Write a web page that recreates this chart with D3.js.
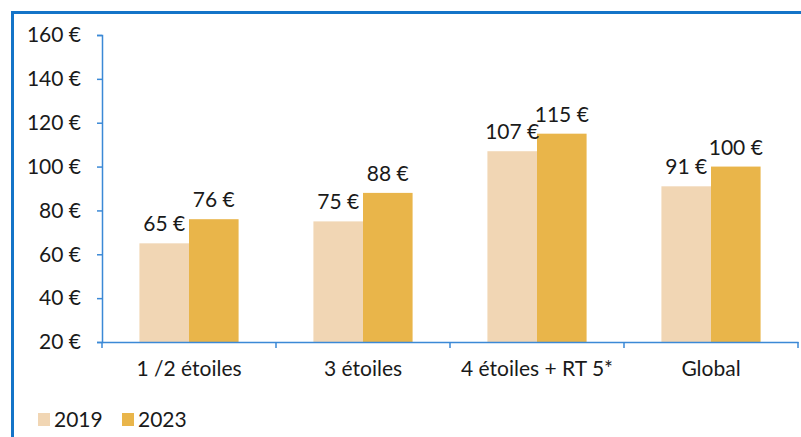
<!DOCTYPE html>
<html>
<head>
    <meta charset="UTF-8">
    <title>Prix moyen</title>
    <script src="https://d3js.org/d3.v7.min.js"></script>
    <style>
        body { margin: 0; background: #fff; }
        text { font-family: Lato, "Noto Sans", sans-serif; fill: #1a1a1a; }
    </style>
</head>
<body>
    <svg class="chart"></svg>

    <script>
    const categories = ["1 /2 étoiles", "3 étoiles", "4 étoiles + RT 5*", "Global"];
    const series = ["2019", "2023"];
    const values2019 = [65, 75, 107, 91];
    const values2023 = [76, 88, 115, 100];
    const yTicks = [20, 40, 60, 80, 100, 120, 140, 160];

    const colors = {"2019": "#f1d6b4", "2023": "#e9b54a"};
    const blue = "#1474c8";
    const axisBlue = "#3b89d6";
    const font = "Lato, 'Noto Sans', sans-serif";
    const fontSize = "21px";

    const W = 801, H = 437;
    const margins = {top: 35, bottom: 95, left: 102, right: 3};
    const width = W - margins.left - margins.right;
    const height = H - margins.top - margins.bottom;

    const data = categories.map((c, i) => ({cat: c, "2019": values2019[i], "2023": values2023[i]}));

    const svg = d3.select(".chart")
        .attr("width", W)
        .attr("height", H);

    // outer frame (top and left edges only visible)
    svg.append("path")
        .attr("d", `M12.5,${H} V12.5 H${W}`)
        .style("fill", "none")
        .style("stroke", blue)
        .style("stroke-width", 3);

    const chart = svg.append("g")
        .attr("transform", `translate(${margins.left}, ${margins.top})`);

    const x0 = d3.scaleBand()
        .domain(categories)
        .range([0, width])
        .padding(0);

    const groupPad = x0.bandwidth() * 0.215;
    const x1 = d3.scaleBand()
        .domain(series)
        .range([groupPad, x0.bandwidth() - groupPad])
        .padding(0);

    const y = d3.scaleLinear()
        .domain([20, 160])
        .range([height, 0]);

    // bars
    const groups = chart.selectAll(".grp")
        .data(data).enter().append("g")
        .attr("class", "grp")
        .attr("transform", d => `translate(${x0(d.cat)},0)`);

    groups.selectAll("rect")
        .data(d => series.map(s => ({s: s, v: d[s]})))
        .enter().append("rect")
        .attr("x", d => x1(d.s))
        .attr("y", d => y(d.v))
        .attr("width", x1.bandwidth())
        .attr("height", d => height - y(d.v))
        .style("fill", d => colors[d.s]);

    groups.selectAll(".lbl")
        .data(d => series.map(s => ({s: s, v: d[s]})))
        .enter().append("text")
        .attr("class", "lbl")
        .attr("x", d => x1(d.s) + x1.bandwidth() / 2)
        .attr("y", d => y(d.v) - 12)
        .attr("text-anchor", "middle")
        .style("font-size", fontSize)
        .text(d => d.v + "\u00a0€");

    // y-axis
    const yAxis = chart.append("g")
        .call(d3.axisLeft(y).tickValues(yTicks).tickSize(5).tickPadding(16)
            .tickFormat(d => d + "\u00a0€"));
    yAxis.select(".domain").style("stroke", axisBlue).style("stroke-width", 1.5);
    yAxis.selectAll(".tick line").style("stroke", axisBlue).style("stroke-width", 1.5);
    yAxis.selectAll("text").style("font-size", fontSize).style("font-family", font).attr("fill", "#1a1a1a");

    // x-axis
    const xAxis = chart.append("g")
        .attr("transform", `translate(0, ${height})`)
        .call(d3.axisBottom(x0).tickSize(0).tickPadding(19));
    xAxis.select(".domain").style("stroke", axisBlue).style("stroke-width", 1.5);
    xAxis.selectAll("text").style("font-size", fontSize).style("font-family", font).attr("fill", "#1a1a1a");

    // category boundary ticks
    const bounds = categories.map(c => x0(c)).concat([x0(categories[categories.length - 1]) + x0.bandwidth()]);
    xAxis.selectAll(".bound")
        .data(bounds).enter().append("line")
        .attr("class", "bound")
        .attr("x1", d => d).attr("x2", d => d)
        .attr("y1", 0).attr("y2", 6)
        .style("stroke", axisBlue)
        .style("stroke-width", 1.5);

    // legend
    const legend = svg.append("g")
        .attr("transform", `translate(38, 413)`);

    const items = legend.selectAll(".item")
        .data(series).enter().append("g")
        .attr("class", "item")
        .attr("transform", (d, i) => `translate(${i * 84}, 0)`);

    items.append("rect")
        .attr("width", 12).attr("height", 13)
        .style("fill", d => colors[d]);

    items.append("text")
        .attr("x", 16)
        .attr("y", 14)
        .style("font-size", fontSize)
        .text(d => d);
    </script>
</body>
</html>
